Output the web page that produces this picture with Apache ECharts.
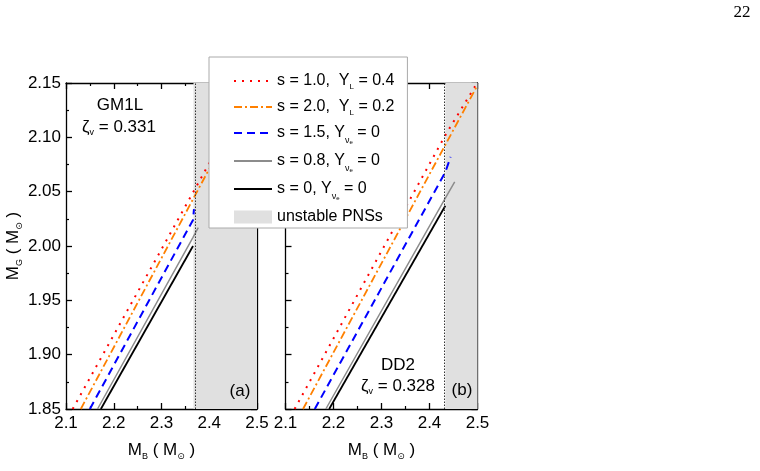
<!DOCTYPE html>
<html>
<head>
<meta charset="utf-8">
<script src="https://cdn.jsdelivr.net/npm/echarts@6/dist/echarts.min.js"></script>
<style>
html, body { margin: 0; background: #fff; }
#chart { width: 760px; height: 471px; }
</style>
</head>
<body>
<div id="chart"></div>
<script>
// 数据: 左图 GM1L, 右图 DD2  (M_B, M_G)
const seriesNames = ['s1.0_YL0.4', 's2.0_YL0.2', 's1.5_Y0', 's0.8_Y0', 's0_Y0'];
const gm1lRed = [[2.114, 1.85], [2.420, 2.092]];
const gm1lOrange = [[2.131, 1.85], [2.400, 2.071], [2.420, 2.087]];
const gm1lBlue = [[2.150, 1.85], [2.366, 2.024], [2.368, 2.034]];
const gm1lGray = [[2.166, 1.85], [2.366, 2.008], [2.377, 2.017]];
const gm1lBlack = [[2.173, 1.85], [2.366, 2.000]];
const dd2Red = [[2.119, 1.85], [2.433, 2.102], [2.495, 2.147]];
const dd2Orange = [[2.1365, 1.85], [2.500, 2.148]];
const dd2Blue = [[2.161, 1.85], [2.433, 2.068], [2.444, 2.082]];
const dd2Gray = [[2.184, 1.85], [2.433, 2.044], [2.4525, 2.059]];
const dd2Black = [[2.191, 1.85], [2.433, 2.037]];
const unstableStart = [2.367, 2.433];   // 不稳定区起点
const xRange = [2.1, 2.5];
const yRange = [1.85, 2.15];

const FONT = "'Liberation Sans', 'DejaVu Sans', Arial, sans-serif";

const lineStyles = [
    { color: '#ff0000', type: [2, 6], width: 2 },
    { color: '#ff8000', type: [8, 3, 2, 3], width: 1.8 },
    { color: '#0000ff', type: [8, 5], width: 2 },
    { color: '#8c8c8c', type: 'solid', width: 1.5 },
    { color: '#000000', type: 'solid', width: 1.8 }
];

const legendLabels = {
    's1.0_YL0.4': '{m|s = 1.0,  Y}{s|L}{m| = 0.4}',
    's2.0_YL0.2': '{m|s = 2.0,  Y}{s|L}{m| = 0.2}',
    's1.5_Y0': '{mt|s = 1.5, Y}{n|ν}{e|e}{mt| = 0}',
    's0.8_Y0': '{mt|s = 0.8, Y}{n|ν}{e|e}{mt| = 0}',
    's0_Y0': '{mt|s = 0, Y}{n|ν}{e|e}{mt| = 0}',
    'unstable PNSs': '{m|unstable PNSs}'
};

const legendRich = {
    m: { fontSize: 16, lineHeight: 20, fontFamily: FONT, color: '#000' },
    mt: { fontSize: 16, lineHeight: 24, fontFamily: FONT, color: '#000' },
    s: { fontSize: 8, lineHeight: 1, verticalAlign: 'bottom', fontFamily: FONT, color: '#000' },
    n: { fontSize: 9, lineHeight: 6, verticalAlign: 'bottom', fontFamily: FONT, color: '#000' },
    e: { fontSize: 6, lineHeight: 1, verticalAlign: 'bottom', fontFamily: FONT, color: '#000' }
};

const nameRich = {
    m: { fontSize: 17, lineHeight: 22, fontFamily: FONT, color: '#000' },
    s: { fontSize: 9, lineHeight: 1, verticalAlign: 'bottom', fontFamily: FONT, color: '#000' }
};

const axisLineStyle = { color: '#000', width: 1.3 };

function xAxisOf(gridIndex, position) {
    const bottom = position === 'bottom';
    return {
        type: 'value',
        gridIndex: gridIndex,
        position: position,
        min: xRange[0],
        max: xRange[1],
        interval: 0.1,
        axisLine: { show: true, onZero: false, lineStyle: axisLineStyle },
        axisTick: { show: true, inside: true, length: 6, lineStyle: axisLineStyle },
        minorTick: { show: true, splitNumber: 2, length: 3, lineStyle: { color: '#000', width: 1.2 } },
        splitLine: { show: false },
        minorSplitLine: { show: false },
        axisLabel: {
            show: bottom,
            margin: 6,
            fontSize: 17,
            color: '#000',
            fontFamily: FONT,
            showMinLabel: true,
            showMaxLabel: true,
            formatter: v => v.toFixed(1)
        },
        name: bottom ? '{m|M}{s|B}{m| ( M}{s|⊙}{m| )}' : '',
        nameLocation: 'middle',
        nameGap: 30,
        nameTextStyle: { rich: nameRich }
    };
}

function yAxisOf(gridIndex, position, withLabels) {
    return {
        type: 'value',
        gridIndex: gridIndex,
        position: position,
        min: yRange[0],
        max: yRange[1],
        interval: 0.05,
        axisLine: { show: true, onZero: false, lineStyle: axisLineStyle },
        axisTick: { show: true, inside: true, length: 6, lineStyle: axisLineStyle },
        minorTick: { show: true, splitNumber: 2, length: 3, lineStyle: { color: '#000', width: 1.2 } },
        splitLine: { show: false },
        minorSplitLine: { show: false },
        axisLabel: {
            show: withLabels,
            margin: 5,
            fontSize: 17,
            color: '#000',
            fontFamily: FONT,
            showMinLabel: true,
            showMaxLabel: true,
            formatter: v => v.toFixed(2)
        },
        name: withLabels ? '{m|M}{s|G}{m| ( M}{s|⊙}{m| )}' : '',
        nameLocation: 'middle',
        nameGap: 41,
        nameTextStyle: { rich: nameRich }
    };
}

const panels = [
    [gm1lRed, gm1lOrange, gm1lBlue, gm1lGray, gm1lBlack],
    [dd2Red, dd2Orange, dd2Blue, dd2Gray, dd2Black]
];

const series = [];
panels.forEach((lines, p) => {
    // 阴影区 + 竖虚线
    series.push({
        type: 'line',
        name: 'unstable PNSs',
        xAxisIndex: p,
        yAxisIndex: p,
        data: [],
        symbol: 'none',
        itemStyle: { color: '#e0e0e0' },
        lineStyle: { color: '#e0e0e0' },
        markArea: {
            silent: true,
            itemStyle: { color: '#e0e0e0' },
            data: [[{ xAxis: unstableStart[p] }, { xAxis: xRange[1] }]]
        },
        markLine: {
            silent: true,
            symbol: ['none', 'none'],
            label: { show: false },
            lineStyle: { color: '#333', type: [1.5, 1.5], width: 1 },
            data: [{ xAxis: unstableStart[p] }]
        }
    });
    lines.forEach((data, i) => {
        series.push({
            type: 'line',
            name: seriesNames[i],
            xAxisIndex: p,
            yAxisIndex: p,
            data: data,
            symbol: 'none',
            z: 3,
            color: lineStyles[i].color,
            lineStyle: lineStyles[i]
        });
    });
});

function label(text, x, y, size) {
    return {
        type: 'text',
        x: x,
        y: y,
        z: 10,
        style: {
            text: text,
            fill: '#000',
            font: size + 'px ' + FONT,
            align: 'center',
            verticalAlign: 'middle'
        }
    };
}

function zetaLabel(value, x, y) {
    return {
        type: 'text',
        x: x,
        y: y,
        z: 10,
        style: {
            text: '{m|ζ}{s|v}{m| = ' + value + '}',
            align: 'center',
            verticalAlign: 'middle',
            rich: {
                m: { fontSize: 17, lineHeight: 20, fontFamily: FONT, fill: '#000' },
                s: { fontSize: 9, lineHeight: 1, verticalAlign: 'bottom', fontFamily: FONT, fill: '#000' }
            }
        }
    };
}

// 图例: 线条项不画圆点
const legendData = seriesNames.map(n => ({ name: n, itemStyle: { opacity: 0 } }))
    .concat([{ name: 'unstable PNSs', icon: 'rect', itemStyle: { color: '#e0e0e0', opacity: 1 } }]);

const option = {
    animation: false,
    backgroundColor: '#fff',
    textStyle: { fontFamily: FONT },
    grid: [
        { left: 66, top: 83, width: 191, height: 326, outerBoundsMode: 'none', containLabel: false },
        { left: 285.5, top: 83, width: 192, height: 326, outerBoundsMode: 'none', containLabel: false }
    ],
    xAxis: [xAxisOf(0, 'bottom'), xAxisOf(1, 'bottom'), xAxisOf(0, 'top'), xAxisOf(1, 'top')],
    yAxis: [yAxisOf(0, 'left', true), yAxisOf(1, 'left', false), yAxisOf(0, 'right', false), yAxisOf(1, 'right', false)],
    legend: {
        orient: 'vertical',
        left: 209,
        top: 57,
        padding: [16, 13, 3, 24],
        itemGap: 8,
        itemWidth: 38,
        itemHeight: 13,
        backgroundColor: '#fff',
        borderColor: '#aaa',
        borderWidth: 1,
        borderRadius: 0,
        selectedMode: false,
        data: legendData,
        formatter: name => legendLabels[name],
        textStyle: { fontSize: 16, color: '#000', fontFamily: FONT, rich: legendRich }
    },
    graphic: [
        label('GM1L', 120, 105, 17),
        zetaLabel('0.331', 119, 127.5),
        label('(a)', 240, 391.5, 17),
        label('DD2', 398, 365.5, 17),
        zetaLabel('0.328', 398, 386.5),
        label('(b)', 462, 390, 17),
        {
            type: 'text', x: 742, y: 12.5, z: 10,
            style: { text: '22', fill: '#000', font: "17px 'Liberation Serif', 'DejaVu Serif', serif", align: 'center', verticalAlign: 'middle' }
        }
    ],
    series: series
};

const chart = echarts.init(document.getElementById('chart'), null, { renderer: 'canvas' });
chart.setOption(option);
</script>
</body>
</html>
